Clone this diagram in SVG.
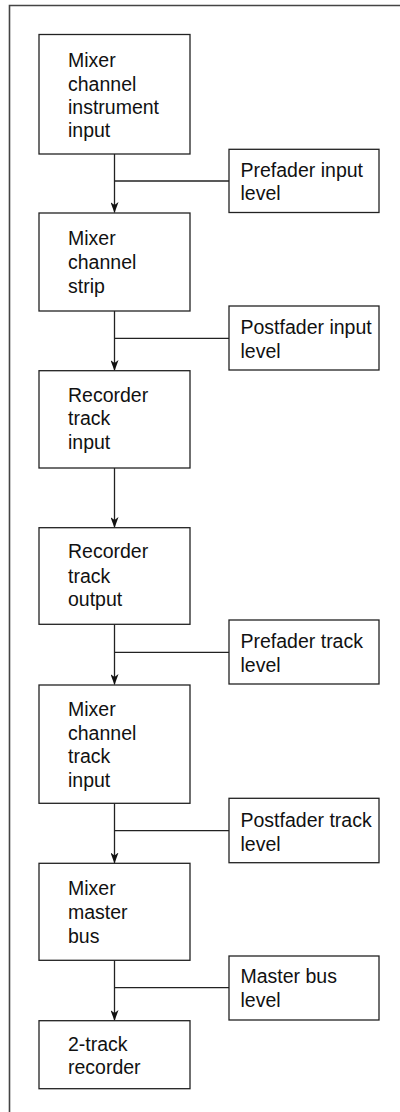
<svg xmlns="http://www.w3.org/2000/svg" width="400" height="1112" viewBox="0 0 400 1112">
<defs>
<style>
.box{fill:#fff;stroke:#222;stroke-width:1.3}
.frame{fill:none;stroke:#444;stroke-width:1.6}
.ln{fill:none;stroke:#222;stroke-width:1.3}
.ah{fill:#111;stroke:none}
text{font-family:"Liberation Sans",Arial,sans-serif;font-size:19.5px;fill:#111}
</style>
<marker id="arr" markerWidth="11" markerHeight="8" refX="10.5" refY="4" orient="auto" markerUnits="userSpaceOnUse" viewBox="0 0 11 8">
<path d="M0,0 L3,4 L0,8 L11,4 Z" class="ah"/>
</marker>
</defs>
<rect width="400" height="1112" fill="#fff"/>
<path class="frame" d="M9.5,1112 V5.5 H400"/>
<g id="connectors">
<path class="ln" d="M114.5,154 V212.5" marker-end="url(#arr)"/>
<path class="ln" d="M114.5,181 H229"/>
<path class="ln" d="M114.5,311 V370.5" marker-end="url(#arr)"/>
<path class="ln" d="M114.5,338.3 H229"/>
<path class="ln" d="M114.5,468 V527.5" marker-end="url(#arr)"/>
<path class="ln" d="M114.5,624.3 V684.5" marker-end="url(#arr)"/>
<path class="ln" d="M114.5,652.3 H229"/>
<path class="ln" d="M114.5,803.3 V863" marker-end="url(#arr)"/>
<path class="ln" d="M114.5,830.7 H229"/>
<path class="ln" d="M114.5,960.3 V1020.5" marker-end="url(#arr)"/>
<path class="ln" d="M114.5,987.7 H229"/>
</g>
<g id="n1"><rect class="box" x="39" y="34.5" width="151" height="119.5"/>
<text x="68" y="67">Mixer</text><text x="68" y="91">channel</text><text x="68" y="114">instrument</text><text x="68" y="137">input</text></g>
<g id="s1"><rect class="box" x="229" y="149.3" width="150" height="63.2"/>
<text x="240.5" y="177">Prefader input</text><text x="240.5" y="200">level</text></g>
<g id="n2"><rect class="box" x="39" y="213" width="151" height="98"/>
<text x="68" y="245">Mixer</text><text x="68" y="268.5">channel</text><text x="68" y="292.5">strip</text></g>
<g id="s2"><rect class="box" x="229" y="306" width="150" height="64"/>
<text x="240.5" y="334">Postfader input</text><text x="240.5" y="357.5">level</text></g>
<g id="n3"><rect class="box" x="39" y="370.7" width="151" height="97.3"/>
<text x="68" y="401.5">Recorder</text><text x="68" y="425">track</text><text x="68" y="449">input</text></g>
<g id="n4"><rect class="box" x="39" y="527.7" width="151" height="96.6"/>
<text x="68" y="558">Recorder</text><text x="68" y="582.5">track</text><text x="68" y="606">output</text></g>
<g id="s3"><rect class="box" x="229" y="620" width="150" height="64"/>
<text x="240.5" y="648">Prefader track</text><text x="240.5" y="671.5">level</text></g>
<g id="n5"><rect class="box" x="39" y="685" width="151" height="118.3"/>
<text x="68" y="716">Mixer</text><text x="68" y="740">channel</text><text x="68" y="763">track</text><text x="68" y="787">input</text></g>
<g id="s4"><rect class="box" x="229" y="798.3" width="150" height="64.4"/>
<text x="240.5" y="826.5">Postfader track</text><text x="240.5" y="850.5">level</text></g>
<g id="n6"><rect class="box" x="39" y="863.3" width="151" height="97"/>
<text x="68" y="895">Mixer</text><text x="68" y="919">master</text><text x="68" y="942.5">bus</text></g>
<g id="s5"><rect class="box" x="229" y="956" width="150" height="64"/>
<text x="240.5" y="983.3">Master bus</text><text x="240.5" y="1007">level</text></g>
<g id="n7"><rect class="box" x="39" y="1020.7" width="151" height="68"/>
<text x="68" y="1050.5">2-track</text><text x="68" y="1074">recorder</text></g>
</svg>
